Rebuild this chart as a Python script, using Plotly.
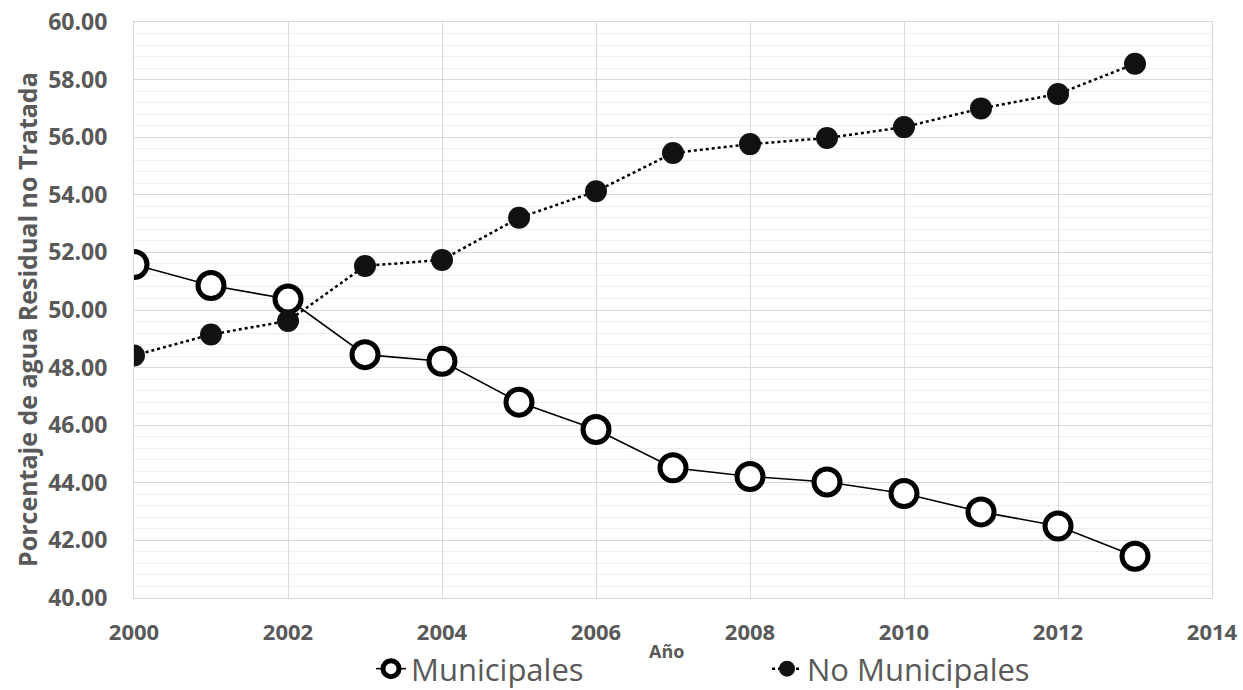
import plotly.graph_objects as go

years = [2000, 2001, 2002, 2003, 2004, 2005, 2006, 2007, 2008, 2009, 2010, 2011, 2012, 2013]
municipales = [51.58, 50.85, 50.38, 48.45, 48.22, 46.80, 45.85, 44.52, 44.22, 44.03, 43.63, 42.99, 42.50, 41.45]
no_municipales = [48.42, 49.15, 49.62, 51.53, 51.74, 53.20, 54.12, 55.45, 55.76, 55.97, 56.35, 57.00, 57.50, 58.55]

gray = "#595959"
font_family = "Open Sans"

W, H = 1243, 690
L, R, T, B = 134, 31, 22, 92
PW = W - L - R
PH = H - T - B

fig = go.Figure()
fig.add_trace(go.Scatter(
    x=years, y=municipales, name="Municipales", mode="lines+markers",
    line=dict(color="black", width=1.6),
    marker=dict(symbol="circle", size=26, color="white", line=dict(color="black", width=5)),
))
fig.add_trace(go.Scatter(
    x=years, y=no_municipales, name="No Municipales", mode="lines+markers",
    line=dict(color="black", width=2.5, dash="dot"),
    marker=dict(symbol="circle", size=22, color="#111111"),
))

fig.update_layout(
    width=W, height=H,
    margin=dict(l=L, r=R, t=T, b=B, autoexpand=False),
    paper_bgcolor="white", plot_bgcolor="white",
    font=dict(family=font_family, color=gray),
    showlegend=True,
    legend=dict(orientation="h", x=(371 - L) / PW, xanchor="left",
                y=(PH - (669 - T)) / PH, yanchor="middle",
                font=dict(size=31, color=gray, family=font_family),
                entrywidth=351, entrywidthmode="pixels", itemwidth=30, tracegroupgap=0),
    xaxis=dict(range=[2000, 2014], dtick=2, tick0=2000, showgrid=True,
               gridcolor="#d9d9d9", gridwidth=1, zeroline=False,
               showline=True, linecolor="#d9d9d9", mirror=True,
               ticks="outside", ticklen=15, tickcolor="rgba(0,0,0,0)",
               tickfont=dict(size=22, color=gray, family=font_family),
               ticklabeloverflow="allow",
               ),
    yaxis=dict(range=[40, 60], dtick=2, tick0=40, tickformat=".2f", showgrid=True,
               gridcolor="#d9d9d9", gridwidth=1, zeroline=False,
               showline=True, linecolor="#d9d9d9", mirror=True,
               ticks="outside", ticklen=21, tickcolor="rgba(0,0,0,0)",
               tickfont=dict(size=23, color=gray, family=font_family),
               ticklabeloverflow="allow",
               minor=dict(dtick=0.4, showgrid=True, gridcolor="#eeeeee", gridwidth=1),
               ),
    annotations=[
        dict(text="<b>Porcentaje de agua Residual no Tratada</b>",
             x=(27 - L) / PW, y=(PH - (320 - T)) / PH,
             xref="paper", yref="paper", textangle=-90, showarrow=False,
             font=dict(size=25, color=gray, family=font_family), xanchor="center", yanchor="middle"),
        dict(text="<b>Año</b>", x=2006.91, y=(PH - (651 - T)) / PH, xref="x", yref="paper", showarrow=False,
             font=dict(size=18, color=gray, family=font_family), xanchor="center", yanchor="middle"),
    ],
)
fig.update_xaxes(tickprefix="<b>", ticksuffix="</b>")
fig.update_yaxes(tickprefix="<b>", ticksuffix="</b>")

fig.write_html("out.html", config={"displayModeBar": False},
               post_script="document.body.style.margin='0';document.body.style.overflow='hidden';")
